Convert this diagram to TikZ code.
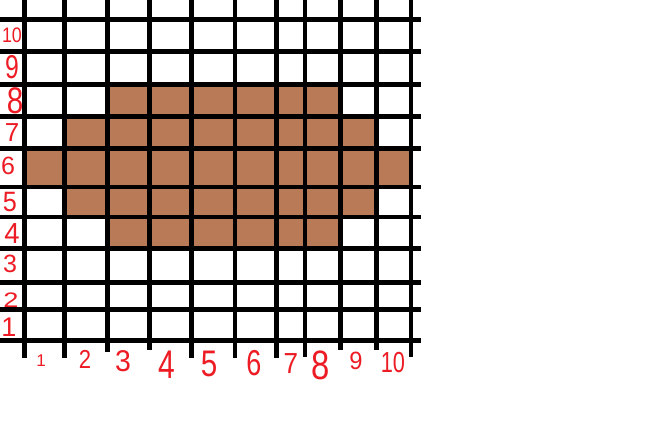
\documentclass[tikz,border=0pt]{standalone}
\usepackage{fontspec}
\setmainfont{Liberation Sans}
\definecolor{paintbrown}{RGB}{185,122,87}
\definecolor{paintred}{RGB}{237,28,36}
\newcommand\labsize[1]{\fontsize{#1}{#1}\selectfont}
\begin{document}
\begin{tikzpicture}[x=1pt,y=-1pt,
  gridline/.style={line width=4.7pt, black},
  cell/.style={fill=paintbrown},
  lab/.style={text=paintred, inner sep=0pt, anchor=center}]
\useasboundingbox[fill=white] (0,0) rectangle (646,427);
% brown cells
\fill[cell] (107.5,84.5) rectangle (340.5,116.5);
\fill[cell] (64.5,116.5) rectangle (376.5,148.5);
\fill[cell] (24.5,148.5) rectangle (411,187);
\fill[cell] (64.5,187) rectangle (376.5,217);
\fill[cell] (107.5,217) rectangle (340.5,248.5);
% horizontal lines
\foreach \y in {19.5,51.5,84.5,116.5,148.5,187,217,248.5,282.5,309.5,340.5}
  \draw[gridline] (0,\y) -- (421,\y);
% vertical lines
\foreach \x/\e in {24.5/358,64.5/358,107.5/352,149.5/350,191.5/358,235/358,276.5/358,305/357,340.5/350,376.5/350,411/357}
  \draw[gridline] (\x,0) -- (\x,\e);
% row labels
\node[lab, font=\labsize{21}] (r10) at (12,35.5) {\scalebox{0.85}[1]{10}};
\node[lab, font=\labsize{33}] (r9) at (12,67.5) {\scalebox{0.75}[1]{9}};
\node[lab, font=\labsize{37}] (r8) at (15,101) {\scalebox{0.8}[1]{8}};
\node[lab, font=\labsize{26}] (r7) at (12,133) {7};
\node[lab, font=\labsize{25}] (r6) at (8,166) {6};
\node[lab, font=\labsize{28}] (r5) at (10,202.5) {\scalebox{0.9}[1]{5}};
\node[lab, font=\labsize{29}] (r4) at (12,234) {\scalebox{0.95}[1]{4}};
\node[lab, font=\labsize{25}] (r3) at (10,264) {3};
\node[lab, font=\labsize{21}] (r2) at (11,300) {\scalebox{1.3}[1]{2}};
\node[lab, font=\labsize{27}] (r1) at (9,327) {1};
% column labels
\node[lab, font=\labsize{17}] (c1) at (41,361) {1};
\node[lab, font=\labsize{26}] (c2) at (85,359.5) {\scalebox{0.85}[1]{2}};
\node[lab, font=\labsize{30}] (c3) at (123,361) {\scalebox{0.95}[1]{3}};
\node[lab, font=\labsize{40}] (c4) at (167,364.5) {\scalebox{0.75}[1]{4}};
\node[lab, font=\labsize{37}] (c5) at (209,363.5) {\scalebox{0.8}[1]{5}};
\node[lab, font=\labsize{36}] (c6) at (254,363) {\scalebox{0.75}[1]{6}};
\node[lab, font=\labsize{29}] (c7) at (291,363.5) {\scalebox{0.9}[1]{7}};
\node[lab, font=\labsize{41}] (c8) at (321,365) {\scalebox{0.8}[1]{8}};
\node[lab, font=\labsize{25}] (c9) at (356,361) {\scalebox{0.95}[1]{9}};
\node[lab, font=\labsize{29}] (c10) at (393,362.5) {\scalebox{0.75}[1]{10}};
\end{tikzpicture}
\end{document}
